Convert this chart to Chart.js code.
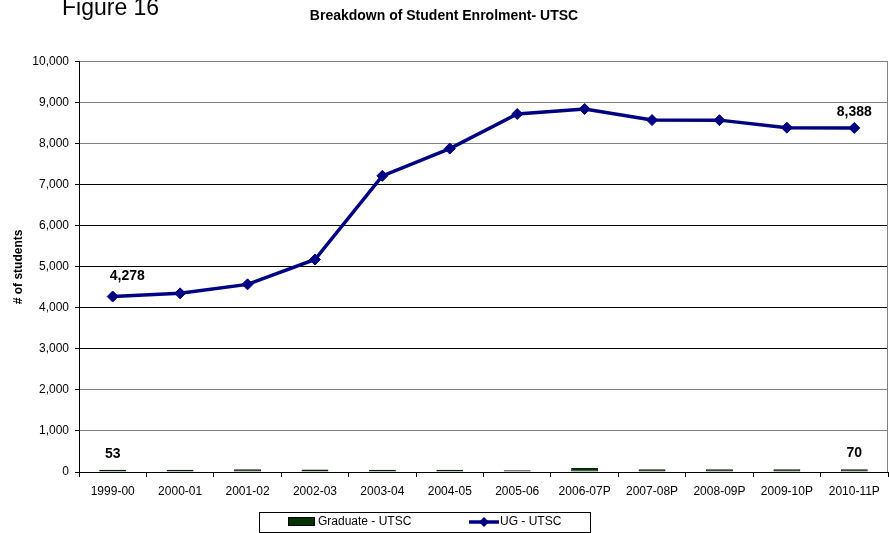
<!DOCTYPE html>
<html>
<head>
<meta charset="utf-8">
<script src="https://cdn.jsdelivr.net/npm/chart.js@4.4.1/dist/chart.umd.min.js"></script>
<style>
  html, body { margin: 0; padding: 0; background: #fff; }
  #wrap { width: 889px; height: 533px; }
</style>
</head>
<body>
<div id="wrap"><canvas id="grafico"></canvas></div>
<script>
// dados
const anos = ['1999-00', '2000-01', '2001-02', '2002-03', '2003-04', '2004-05',
  '2005-06', '2006-07P', '2007-08P', '2008-09P', '2009-10P', '2010-11P'];
const graduados = [53, 55, 68, 62, 55, 56, 45, 100, 68, 68, 70, 70];
const ugUtsc = [4278, 4355, 4574, 5180, 7220, 7885, 8727, 8849, 8580, 8578, 8394, 8388];
const rotulosY = ['0', '1,000', '2,000', '3,000', '4,000', '5,000', '6,000', '7,000', '8,000', '9,000', '10,000'];
const indicesRotulo = [0, 11]; // pontos com valor escrito

const FONTE = '"Liberation Sans", Arial, sans-serif';
const VERDE = '#003300';
const AZUL = '#000080';

function formatar(v) {
  return v.toLocaleString('en-US');
}

// fundo, borda direita, rótulos de valores, legenda e "Figure 16"
const extras = {
  id: 'extras',
  beforeDraw(chart) {
    const ctx = chart.ctx;
    ctx.save();
    ctx.fillStyle = '#fff';
    ctx.fillRect(0, 0, chart.width, chart.height);
    ctx.restore();
  },
  afterDatasetsDraw(chart) {
    const ctx = chart.ctx;
    const area = chart.chartArea;
    ctx.save();
    // borda direita cinza
    ctx.strokeStyle = '#808080';
    ctx.lineWidth = 1;
    ctx.beginPath();
    ctx.moveTo(Math.round(area.right) - 0.5, area.top);
    ctx.lineTo(Math.round(area.right) - 0.5, area.bottom);
    ctx.stroke();

    ctx.fillStyle = '#000';
    ctx.font = 'bold 14px ' + FONTE;
    ctx.textBaseline = 'middle';
    chart.data.datasets.forEach((ds, i) => {
      const meta = chart.getDatasetMeta(i);
      indicesRotulo.forEach(idx => {
        const el = meta.data[idx];
        if (!el) return;
        const txt = formatar(ds.data[idx]);
        if (ds.type === 'line' && idx === 0) {
          ctx.textAlign = 'left';
          ctx.fillText(txt, el.x - 3, el.y - 20);
        } else {
          ctx.textAlign = 'center';
          ctx.fillText(txt, el.x, el.y - 16);
        }
      });
    });
    ctx.restore();
  },
  afterDraw(chart) {
    const ctx = chart.ctx;
    ctx.save();
    // Figure 16
    ctx.fillStyle = '#000';
    ctx.font = '23px ' + FONTE;
    ctx.textAlign = 'left';
    ctx.textBaseline = 'alphabetic';
    ctx.fillText('Figure 16', 62, 15);

    // legenda com caixa
    ctx.strokeStyle = '#000';
    ctx.lineWidth = 1;
    ctx.strokeRect(259.5, 512.5, 331, 20);
    ctx.fillStyle = VERDE;
    ctx.fillRect(288, 517, 27, 9);
    ctx.strokeRect(288.5, 517.5, 26, 8);
    ctx.fillStyle = '#000';
    ctx.font = '12px ' + FONTE;
    ctx.textBaseline = 'middle';
    ctx.fillText('Graduate - UTSC', 318, 522);

    ctx.strokeStyle = AZUL;
    ctx.lineWidth = 3.5;
    ctx.beginPath();
    ctx.moveTo(469, 522);
    ctx.lineTo(499, 522);
    ctx.stroke();
    ctx.fillStyle = AZUL;
    ctx.beginPath();
    ctx.moveTo(484, 517);
    ctx.lineTo(489, 522);
    ctx.lineTo(484, 527);
    ctx.lineTo(479, 522);
    ctx.closePath();
    ctx.fill();
    ctx.fillStyle = '#000';
    ctx.fillText('UG - UTSC', 500, 522);
    ctx.restore();
  }
};

const ctx = document.getElementById('grafico').getContext('2d');
new Chart(ctx, {
  type: 'bar',
  data: {
    labels: anos,
    datasets: [{
      type: 'line',
      label: 'UG - UTSC',
      data: ugUtsc,
      borderColor: AZUL,
      backgroundColor: AZUL,
      borderWidth: 3.5,
      pointStyle: 'rectRot',
      pointRadius: 5.5,
      pointBorderWidth: 1,
      pointBackgroundColor: AZUL,
      pointBorderColor: AZUL,
      tension: 0,
      order: 0
    }, {
      type: 'bar',
      label: 'Graduate - UTSC',
      data: graduados,
      backgroundColor: VERDE,
      borderColor: '#0a1f0a',
      borderWidth: 1,
      borderSkipped: false,
      barPercentage: 0.4,
      categoryPercentage: 1,
      order: 1
    }]
  },
  options: {
    responsive: true,
    maintainAspectRatio: false,
    animation: false,
    layout: { autoPadding: false, padding: { left: 0, right: 1, top: 0, bottom: 0 } },
    plugins: {
      legend: { display: false },
      tooltip: { enabled: false },
      title: {
        display: true,
        text: 'Breakdown of Student Enrolment- UTSC',
        color: '#000',
        font: { family: FONTE, size: 14, weight: 'bold' },
        padding: { top: 8, bottom: 37 }
      }
    },
    scales: {
      x: {
        offset: true,
        ticks: { color: '#000', font: { family: FONTE, size: 12 }, padding: 7, maxRotation: 0, autoSkip: false },
        grid: { offset: true, drawOnChartArea: false, drawTicks: true, tickLength: 5, color: '#000' },
        border: { color: '#000', width: 1 },
        afterFit(s) {
          s.height = 61;
          s.paddingLeft = 0;
          s.paddingRight = 0;
        }
      },
      y: {
        min: 0,
        max: 10000,
        ticks: {
          stepSize: 1000,
          color: '#000',
          font: { family: FONTE, size: 12 },
          padding: 6,
          callback: (v, i) => rotulosY[i]
        },
        grid: {
          color: c => (c.tick && (c.tick.value >= 8000 || c.tick.value <= 2000)) ? '#808080' : '#000',
          tickColor: '#000',
          tickLength: 4,
          lineWidth: 1
        },
        border: { color: '#000', width: 1 },
        title: {
          display: true,
          text: '# of students',
          color: '#000',
          font: { family: FONTE, size: 12, weight: 'bold' },
          padding: { top: 11, bottom: 0 }
        },
        afterFit(s) { s.width = 79; }
      }
    }
  },
  plugins: [extras]
});
</script>
</body>
</html>
